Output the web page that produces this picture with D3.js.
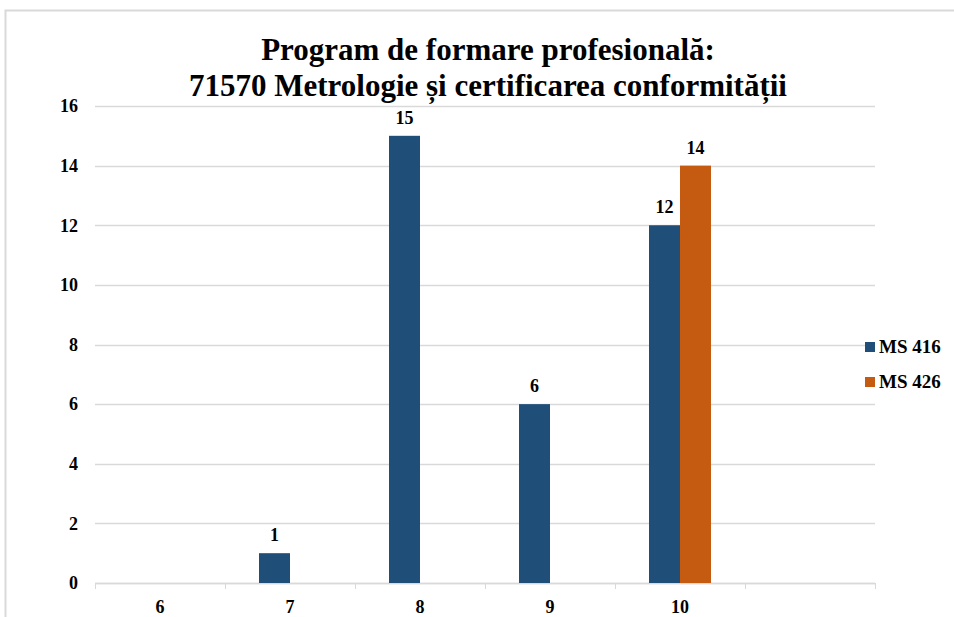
<!DOCTYPE html>
<html>
<head>
<meta charset="utf-8">
<script src="https://cdn.jsdelivr.net/npm/d3@7"></script>
<style>
  body { margin: 0; background: #fff; }
  text { font-family: "Liberation Serif", "Times New Roman", serif; font-weight: bold; fill: #000; }
</style>
</head>
<body>
<script>
// chart data
var categories = ["6", "7", "8", "9", "10", ""];
var seriesNames = ["MS 416", "MS 426"];
var ms416 = [0, 1, 15, 6, 12, null];
var ms426 = [0, 0, 0, 0, 14, null];
var yTicks = [0, 2, 4, 6, 8, 10, 12, 14, 16];
var titleLines = ["Program de formare profesională:", "71570 Metrologie și certificarea conformității"];

var W = 954, H = 617;
var margin = {top: 106, right: 79, bottom: 34, left: 95};
var width = W - margin.left - margin.right,
    height = H - margin.top - margin.bottom;

var svg = d3.select("body").append("svg")
    .attr("width", W)
    .attr("height", H);

// outer chart border (cropped at right/bottom)
svg.append("rect")
    .attr("x", 5.5).attr("y", 10.5)
    .attr("width", W + 10).attr("height", H + 10)
    .attr("fill", "none")
    .attr("stroke", "#d9d9d9")
    .attr("stroke-width", 2);

svg.selectAll(".title")
    .data(titleLines)
  .enter().append("text")
    .attr("class", "title")
    .attr("x", 488)
    .attr("y", function(d, i) { return 60 + i * 36; })
    .attr("text-anchor", "middle")
    .attr("font-size", "31px")
    .text(function(d) { return d; });

var g = svg.append("g")
    .attr("transform", "translate(" + margin.left + "," + margin.top + ")");

var x = d3.scaleBand()
    .domain(categories.map(function(d, i) { return i; }))
    .range([0, width])
    .padding(0);

var y = d3.scaleLinear()
    .domain([0, 16])
    .range([height, 0]);

var color = d3.scaleOrdinal()
    .domain(seriesNames)
    .range(["#1f4e79", "#c55a11"]);

var barW = 31;
var x1 = d3.scaleBand()
    .domain(seriesNames)
    .range([x.bandwidth() / 2 - barW, x.bandwidth() / 2 + barW])
    .padding(0);

// gridlines
g.selectAll(".grid")
    .data(yTicks)
  .enter().append("line")
    .attr("x1", 0).attr("x2", width)
    .attr("y1", function(d) { return Math.round(y(d)) + 0.5; })
    .attr("y2", function(d) { return Math.round(y(d)) + 0.5; })
    .attr("stroke", "#d9d9d9")
    .attr("stroke-width", 1.5);

// y axis labels
var yAxis = g.append("g")
    .call(d3.axisLeft(y).tickValues(yTicks).tickSize(0).tickPadding(17));
yAxis.select(".domain").remove();
yAxis.selectAll("text")
    .attr("font-size", "18px")
    .attr("fill", "#000");

// x axis with tick marks between categories
var xAxis = g.append("g")
    .attr("transform", "translate(0," + height + ")");
xAxis.append("line")
    .attr("x1", 0).attr("x2", width)
    .attr("y1", 0.5).attr("y2", 0.5)
    .attr("stroke", "#d9d9d9")
    .attr("stroke-width", 1.5);
var bounds = categories.map(function(d, i) { return x(i); }).concat([width]);
xAxis.selectAll(".tick")
    .data(bounds)
  .enter().append("line")
    .attr("x1", function(d) { return Math.round(d) + 0.5; })
    .attr("x2", function(d) { return Math.round(d) + 0.5; })
    .attr("y1", 0).attr("y2", 6)
    .attr("stroke", "#d9d9d9");
xAxis.selectAll(".lbl")
    .data(categories)
  .enter().append("text")
    .attr("x", function(d, i) { return x(i) + x.bandwidth() / 2; })
    .attr("y", 30)
    .attr("text-anchor", "middle")
    .attr("font-size", "18px")
    .text(function(d) { return d; });

// bars
var rows = categories.map(function(c, i) {
  return {i: i, vals: [{s: "MS 416", v: ms416[i]}, {s: "MS 426", v: ms426[i]}]};
});

var groups = g.selectAll(".grp")
    .data(rows)
  .enter().append("g")
    .attr("transform", function(d) { return "translate(" + x(d.i) + ",0)"; });

groups.selectAll("rect")
    .data(function(d) { return d.vals.filter(function(e) { return e.v; }); })
  .enter().append("rect")
    .attr("x", function(d) { return x1(d.s); })
    .attr("y", function(d) { return y(d.v); })
    .attr("width", x1.bandwidth())
    .attr("height", function(d) { return height - y(d.v); })
    .attr("fill", function(d) { return color(d.s); });

groups.selectAll(".val")
    .data(function(d) { return d.vals.filter(function(e) { return e.v; }); })
  .enter().append("text")
    .attr("x", function(d) { return x1(d.s) + x1.bandwidth() / 2; })
    .attr("y", function(d) { return y(d.v) - 12; })
    .attr("text-anchor", "middle")
    .attr("font-size", "18px")
    .text(function(d) { return d.v; });

// legend
var legend = svg.selectAll(".legend")
    .data(seriesNames)
  .enter().append("g")
    .attr("transform", function(d, i) { return "translate(865," + (342 + i * 35) + ")"; });

legend.append("rect")
    .attr("width", 10)
    .attr("height", 10)
    .attr("fill", color);

legend.append("text")
    .attr("x", 14)
    .attr("y", 11)
    .attr("font-size", "19px")
    .text(function(d) { return d; });
</script>
</body>
</html>
